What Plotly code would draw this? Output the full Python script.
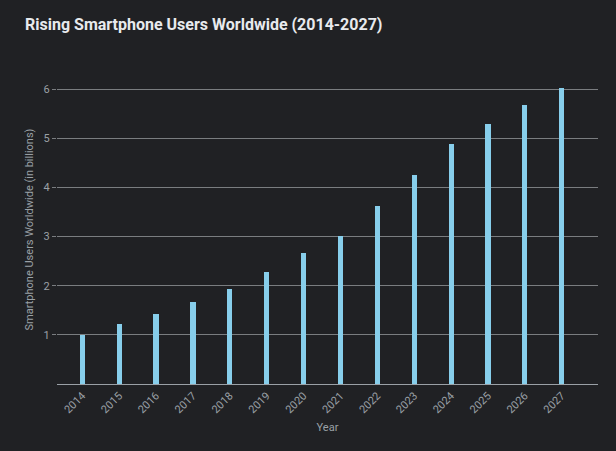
import plotly.graph_objects as go

years = ["2014", "2015", "2016", "2017", "2018", "2019", "2020",
         "2021", "2022", "2023", "2024", "2025", "2026", "2027"]
users_billions = [1.00, 1.22, 1.43, 1.66, 1.94, 2.27, 2.67,
                  3.02, 3.62, 4.26, 4.89, 5.30, 5.67, 6.02]
y_ticks = [1, 2, 3, 4, 5, 6]

BG = "#202124"
TXT = "#9aa0a6"
GRID = "#7a7d80"

fig = go.Figure(go.Bar(
    x=years, y=users_billions, width=0.14,
    marker=dict(color="#87ceeb", line=dict(width=0)),
))

fig.update_layout(
    width=616, height=451,
    paper_bgcolor=BG, plot_bgcolor=BG,
    margin=dict(l=57, r=18, t=75, b=67),
    title=dict(text="<b>Rising Smartphone Users Worldwide (2014-2027)</b>",
               x=25 / 616, xref="container", xanchor="left", y=0.945, yanchor="middle",
               font=dict(family="Roboto", size=16, color="#e8eaed")),
    showlegend=False,
    font=dict(family="Roboto", color=TXT, size=11),
    bargap=0,
)

fig.update_xaxes(
    type="category", range=[-0.686, 13.984],
    showgrid=False, showline=True, linecolor="#9aa0a6", linewidth=1,
    tickangle=-45, ticks="", tickfont=dict(size=11, color=TXT),
    title=dict(text="Year", font=dict(size=11, color=TXT), standoff=8),
    zeroline=False,
)
fig.update_yaxes(
    range=[0, 6.29], tickvals=y_ticks,
    showgrid=True, gridcolor=GRID, gridwidth=1,
    ticks="outside", ticklen=4, tickcolor=GRID,
    tickfont=dict(size=11, color=TXT),
    title=dict(text="Smartphone Users Worldwide (in billions)",
               font=dict(size=11, color=TXT), standoff=7),
    zeroline=False, showline=False,
)

fig.write_html("out.html")
